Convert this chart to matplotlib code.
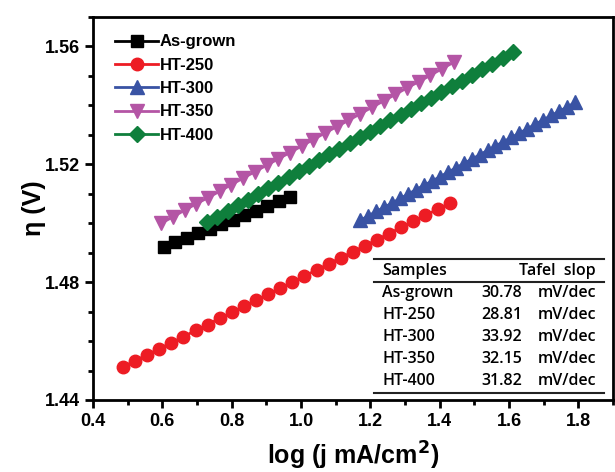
import matplotlib
matplotlib.use("Agg")
import matplotlib.pyplot as plt
from matplotlib.ticker import MultipleLocator

# data
asg_x = [0.604, 0.637, 0.670, 0.704, 0.737, 0.770, 0.803, 0.836, 0.869, 0.903, 0.936, 0.969]
asg_y = [1.4919, 1.4935, 1.4950, 1.4966, 1.4981, 1.4997, 1.5012, 1.5028, 1.5043, 1.5059, 1.5075, 1.5090]

ht250_x = [0.486, 0.521, 0.556, 0.591, 0.626, 0.661, 0.696, 0.731, 0.765, 0.800, 0.835, 0.870, 0.905, 0.940,
           0.975, 1.010, 1.045, 1.080, 1.115, 1.150, 1.185, 1.219, 1.254, 1.289, 1.324, 1.359, 1.394, 1.429]
ht250_y = [1.4512, 1.4533, 1.4553, 1.4574, 1.4594, 1.4615, 1.4636, 1.4656, 1.4677, 1.4697, 1.4718, 1.4738,
           1.4759, 1.4780, 1.4800, 1.4821, 1.4841, 1.4862, 1.4883, 1.4903, 1.4924, 1.4944, 1.4965, 1.4986,
           1.5006, 1.5027, 1.5047, 1.5068]

ht300_x = [1.171, 1.194, 1.217, 1.240, 1.263, 1.286, 1.309, 1.332, 1.355, 1.378, 1.401, 1.424, 1.447, 1.470,
           1.492, 1.515, 1.538, 1.561, 1.584, 1.607, 1.630, 1.653, 1.676, 1.699, 1.722, 1.745, 1.768, 1.791]
ht300_y = [1.5010, 1.5025, 1.5040, 1.5054, 1.5069, 1.5084, 1.5099, 1.5114, 1.5129, 1.5143, 1.5158, 1.5173,
           1.5188, 1.5203, 1.5217, 1.5232, 1.5247, 1.5262, 1.5277, 1.5291, 1.5306, 1.5321, 1.5336, 1.5351,
           1.5366, 1.5380, 1.5395, 1.5410]

ht350_x = [0.597, 0.631, 0.664, 0.698, 0.732, 0.766, 0.799, 0.833, 0.867, 0.901, 0.934, 0.968, 1.002,
           1.035, 1.069, 1.103, 1.137, 1.170, 1.204, 1.238, 1.272, 1.305, 1.339, 1.373, 1.406, 1.440]
ht350_y = [1.5000, 1.5022, 1.5044, 1.5066, 1.5087, 1.5109, 1.5131, 1.5153, 1.5175, 1.5197, 1.5218, 1.5240,
           1.5262, 1.5284, 1.5306, 1.5328, 1.5349, 1.5371, 1.5393, 1.5415, 1.5437, 1.5459, 1.5480, 1.5502,
           1.5524, 1.5546]

ht400_x = [0.729, 0.758, 0.788, 0.817, 0.847, 0.876, 0.905, 0.935, 0.964, 0.994, 1.023, 1.052, 1.082, 1.111,
           1.141, 1.170, 1.199, 1.229, 1.258, 1.288, 1.317, 1.346, 1.376, 1.405, 1.435, 1.464, 1.493, 1.523,
           1.552, 1.582, 1.611]
ht400_y = [1.5003, 1.5022, 1.5041, 1.5061, 1.5080, 1.5099, 1.5118, 1.5138, 1.5157, 1.5176, 1.5195, 1.5215,
           1.5234, 1.5253, 1.5272, 1.5292, 1.5311, 1.5330, 1.5349, 1.5368, 1.5388, 1.5407, 1.5426, 1.5445,
           1.5465, 1.5484, 1.5503, 1.5522, 1.5542, 1.5561, 1.5580]

samples = ["As-grown", "HT-250", "HT-300", "HT-350", "HT-400"]
tafel = ["30.78", "28.81", "33.92", "32.15", "31.82"]

plt.rcParams["font.family"] = ["Liberation Sans", "DejaVu Sans"]
plt.rcParams["font.weight"] = "bold"
plt.rcParams["axes.labelweight"] = "bold"
plt.rcParams["mathtext.default"] = "bf"

W, H = 615, 472
fig = plt.figure(figsize=(W / 100, H / 100), dpi=100)
L, R, T, B = 93, 613, 17, 400
ax = fig.add_axes([L / W, 1 - B / H, (R - L) / W, (B - T) / H])

series = [
    (asg_x, asg_y, "s", "#000000", "As-grown", 8.5),
    (ht250_x, ht250_y, "o", "#ED1C24", "HT-250", 9),
    (ht300_x, ht300_y, "^", "#3953A4", "HT-300", 10),
    (ht350_x, ht350_y, "v", "#B455A5", "HT-350", 10),
    (ht400_x, ht400_y, "D", "#0F7F3C", "HT-400", 8),
]
for x, y, m, c, lab, ms in series:
    ax.plot(x, y, marker=m, color=c, label=lab, markersize=ms, lw=2)

ax.set_xlim(0.4, 1.9)
ax.set_ylim(1.44, 1.57)
ax.xaxis.set_minor_locator(MultipleLocator(0.1))
ax.yaxis.set_minor_locator(MultipleLocator(0.01))
ax.set_xticks([0.4, 0.6, 0.8, 1.0, 1.2, 1.4, 1.6, 1.8])
ax.set_xticklabels(["0.4", "0.6", "0.8", "1.0", "1.2", "1.4", "1.6", "1.8"], fontweight="bold")
ax.set_yticks([1.44, 1.48, 1.52, 1.56])
ax.set_yticklabels(["1.44", "1.48", "1.52", "1.56"], fontweight="bold")
ax.tick_params(which="major", direction="out", length=6, width=2, labelsize=13)
ax.tick_params(which="minor", direction="out", length=3.5, width=2)
for s in ax.spines.values():
    s.set_linewidth(2)

ax.set_xlabel("log (j mA/cm$^{2}$)", fontsize=18, fontweight="bold", labelpad=7)
ax.set_ylabel("η (V)", fontsize=18, fontweight="bold", labelpad=-1)

leg = ax.legend(loc="upper left", frameon=False, handlelength=2.6,
                handletextpad=0.1, labelspacing=0.5, borderaxespad=0.3,
                bbox_to_anchor=(0.02, 0.985), prop={"weight": "bold", "size": 12})

# Tafel slope table inside the axes
tf = dict(transform=ax.transAxes, fontsize=11.5, family=["Open Sans", "DejaVu Sans"],
          fontweight="semibold", va="center")


def fx(px):
    return (px - L) / (R - L)


def fy(py):
    return (B - py) / (B - T)


for py in (259, 282, 393):
    ax.plot([fx(374), fx(604)], [fy(py), fy(py)], color="#222222", lw=1.5,
            transform=ax.transAxes, clip_on=False)
ax.text(fx(382), fy(271), "Samples", ha="left", **tf)
ax.text(fx(596), fy(271), "Tafel  slop", ha="right", **tf)
rows_y = [293, 315, 337, 359, 381]
for name, val, py in zip(samples, tafel, rows_y):
    ax.text(fx(382), fy(py), name, ha="left", **tf)
    ax.text(fx(522), fy(py), val, ha="right", **tf)
    ax.text(fx(596), fy(py), "mV/dec", ha="right", **tf)

fig.savefig("out.png", dpi=100)
